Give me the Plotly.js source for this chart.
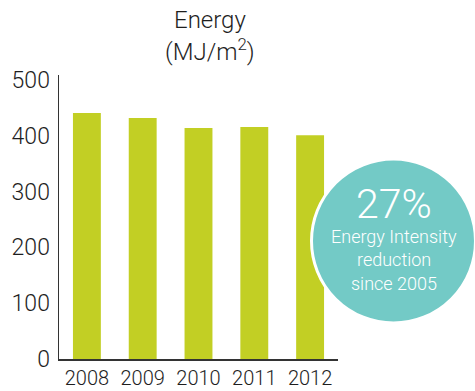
<!DOCTYPE html>
<html>
<head>
<meta charset="utf-8">
<script src="https://cdn.plot.ly/plotly-3.0.1.min.js"></script>
<style>html,body{margin:0;padding:0;background:#fff;}#chart{width:475px;height:391px;}</style>
</head>
<body>
<div id="chart"></div>
<script>
const years = ['2008', '2009', '2010', '2011', '2012'];
const energy = [441, 432, 414, 416, 401];
const yTicks = [0, 100, 200, 300, 400, 500];
const titleLines = ['Energy', '(MJ/m<sup>2</sup>)'];
const calloutLines = ['27%', 'Energy Intensity', 'reduction', 'since 2005'];

const W = 475, H = 391;
const L = 59, R = 137, T = 75, B = 32;
const pw = W - L - R, ph = H - T - B;
const px = v => (v - L) / pw;
const py = v => (H - B - v) / ph;
const cx = px(393.5), cy = py(241);

const textColor = '#1e1e1e';
const font = 'Roboto, Liberation Sans, Arial, sans-serif';
const cfont = 'Roboto, Liberation Sans, sans-serif';

const data = [{
  type: 'bar',
  x: years,
  y: energy,
  marker: {color: '#C2CF24'},
  hoverinfo: 'x+y'
}];

function ann(text, x, y, size, color, weight, f) {
  return {text: text, xref: 'paper', yref: 'paper', x: x, y: y,
    xanchor: 'center', yanchor: 'middle', showarrow: false,
    font: {family: f, size: size, color: color, weight: weight}};
}

const layout = {
  width: W, height: H,
  margin: {l: L, r: R, t: T, b: B, pad: 0},
  paper_bgcolor: '#ffffff',
  plot_bgcolor: '#ffffff',
  showlegend: false,
  bargap: 0.5,
  font: {family: font, color: textColor},
  xaxis: {
    type: 'category',
    range: [-0.5, 4.5],
    showline: true, linecolor: '#333333', linewidth: 1.5,
    ticks: '', showgrid: false, zeroline: false,
    tickfont: {family: font, size: 20, color: textColor, weight: 300},
    ticklabelstandoff: 0,
    fixedrange: true
  },
  yaxis: {
    range: [0, 509],
    tickvals: yTicks,
    ticktext: yTicks.map(String),
    showline: true, linecolor: '#333333', linewidth: 1.5,
    ticks: '', showgrid: false, zeroline: false,
    tickfont: {family: font, size: 23, color: textColor, weight: 300},
    ticklabelstandoff: 3,
    fixedrange: true
  },
  shapes: [{
    type: 'circle', layer: 'above',
    xref: 'paper', yref: 'paper',
    xsizemode: 'pixel', ysizemode: 'pixel',
    xanchor: cx, yanchor: cy,
    x0: -82, x1: 82, y0: -82, y1: 82,
    fillcolor: '#73CAC6',
    line: {color: '#ffffff', width: 3}
  }],
  annotations: [
    ann(titleLines[0], px(210), py(20), 24, textColor, 300, font),
    ann(titleLines[1], px(210), py(50), 24, textColor, 300, font),
    ann(calloutLines[0], cx, py(204), 41, '#ffffff', 300, cfont),
    ann(calloutLines[1], cx, py(236), 18, '#ffffff', 300, cfont),
    ann(calloutLines[2], cx, py(259.5), 18, '#ffffff', 300, cfont),
    ann(calloutLines[3], cx, py(283), 18, '#ffffff', 300, cfont)
  ]
};

Plotly.newPlot('chart', data, layout, {displayModeBar: false, staticPlot: true});
</script>
</body>
</html>
